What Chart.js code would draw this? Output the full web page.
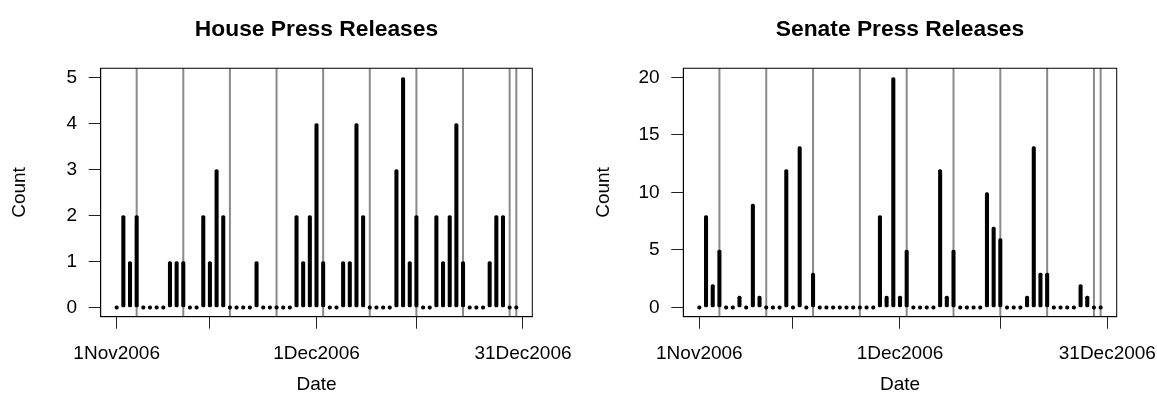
<!DOCTYPE html>
<html>
<head>
<meta charset="utf-8">
<script src="https://cdn.jsdelivr.net/npm/chart.js@4"></script>
<style>
    html, body { margin: 0; padding: 0; background: #fff; }
    .panel { position: absolute; top: 0; height: 408px; }
</style>
</head>
<body>
<div class="panel" style="left:0;width:578px"><canvas id="graficoHouse" width="578" height="408"></canvas></div>
<div class="panel" style="left:578px;width:579px"><canvas id="graficoSenate" width="579" height="408"></canvas></div>
<script>
// daily counts, 1 Nov 2006 .. 31 Dec 2006 (day 0 .. 60)
const houseCounts = [0,2,1,2,0,0,0,0,1,1, 1,0,0,2,1,3,2,0,0,0, 0,1,0,0,0,0,0,2,1,2,
    4,1,0,0,1,1,4,2,0,0, 0,0,3,5,1,2,0,0,2,1, 2,4,1,0,0,0,1,2,2,0,0];
const senateCounts = [0,8,2,5,0,0,1,0,9,1, 0,0,0,12,0,14,0,3,0,0, 0,0,0,0,0,0,0,8,1,20,
    1,5,0,0,0,0,12,1,5,0, 0,0,0,10,7,6,0,0,0,1, 14,3,3,0,0,0,0,2,1,0,0];

// grey reference lines (day numbers)
const markerDays = [3, 10, 17, 24, 31, 38, 45, 52, 59, 60];

const xTickDays = [0, 14, 30, 45, 61];
const xTickLabels = ["1Nov2006", "", "1Dec2006", "", "31Dec2006"];
const houseYTicks = [0, 1, 2, 3, 4, 5];
const senateYTicks = [0, 5, 10, 15, 20];

const fonte = "'Liberation Sans', Arial, Helvetica, sans-serif";
Chart.defaults.color = "#000";
Chart.defaults.font.family = fonte;
Chart.defaults.font.size = 19;

// box around the plot area + grey vertical lines
const caixaPlugin = {
    id: "caixa",
    beforeDatasetsDraw(chart) {
        const { ctx, chartArea, scales } = chart;
        ctx.save();
        ctx.strokeStyle = "#8a8a8a";
        ctx.lineWidth = 2;
        markerDays.forEach(d => {
            const x = scales.x.getPixelForValue(d);
            ctx.beginPath();
            ctx.moveTo(x, chartArea.top);
            ctx.lineTo(x, chartArea.bottom);
            ctx.stroke();
        });
        ctx.restore();
    },
    afterDraw(chart) {
        const { ctx, chartArea } = chart;
        ctx.save();
        ctx.strokeStyle = "#000";
        ctx.lineWidth = 1;
        ctx.strokeRect(chartArea.left, chartArea.top, chartArea.right - chartArea.left, chartArea.bottom - chartArea.top);
        ctx.restore();
    }
};

function criarGrafico(id, titulo, counts, yMin, yMax, yTicks, cfg) {
    const ctx = document.getElementById(id).getContext("2d");
    return new Chart(ctx, {
        type: "bar",
        data: {
            datasets: [{
                data: counts.map((v, i) => ({ x: i, y: v })),
                backgroundColor: "#000",
                borderWidth: 0,
                barThickness: 3.4,
                minBarLength: 3.4,
                borderRadius: 1.7,
                borderSkipped: false
            }]
        },
        options: {
            responsive: false,
            animation: false,
            layout: { padding: { left: 0, top: 0, bottom: 0, right: cfg.padRight } },
            plugins: {
                legend: { display: false },
                tooltip: { enabled: false },
                title: {
                    display: true,
                    text: titulo,
                    fullSize: false,
                    font: { size: 22.8, weight: "bold" },
                    padding: { top: 16.3, bottom: 24.6 }
                }
            },
            scales: {
                x: {
                    type: "linear",
                    min: -2.4,
                    max: 62.4,
                    offset: false,
                    afterBuildTicks: s => { s.ticks = xTickDays.map(v => ({ value: v })); },
                    afterFit: s => {
                        s.height = 408 - 316.7;
                        // labels may overhang, the outer padding already leaves room
                        s.paddingLeft = 0;
                        s.paddingRight = 0;
                    },
                    ticks: {
                        autoSkip: false,
                        maxRotation: 0,
                        minRotation: 0,
                        padding: 13.9,
                        callback: (v) => xTickLabels[xTickDays.indexOf(v)]
                    },
                    grid: { offset: false, drawOnChartArea: false, tickLength: 12, color: "#222" },
                    border: { display: true, color: "#000" },
                    title: { display: true, text: "Date", padding: { top: 0, bottom: 12.1 } }
                },
                y: {
                    type: "linear",
                    min: yMin,
                    max: yMax,
                    afterBuildTicks: s => { s.ticks = yTicks.map(v => ({ value: v })); },
                    afterFit: s => { s.width = cfg.yWidth; s.paddingTop = 0; s.paddingBottom = 0; },
                    ticks: { padding: 11.7 },
                    grid: { drawOnChartArea: false, tickLength: 12, color: "#222" },
                    border: { display: true, color: "#000" },
                    title: { display: true, text: "Count", padding: { top: cfg.countPad, bottom: 0 } }
                }
            }
        },
        plugins: [caixaPlugin]
    });
}

criarGrafico("graficoHouse", "House Press Releases", houseCounts, -0.2, 5.2, houseYTicks,
    { yWidth: 100.7, padRight: 45.7, countPad: 8.6 });
criarGrafico("graficoSenate", "Senate Press Releases", senateCounts, -0.8, 20.8, senateYTicks,
    { yWidth: 105.3, padRight: 40.3, countPad: 14.6 });
</script>
</body>
</html>
